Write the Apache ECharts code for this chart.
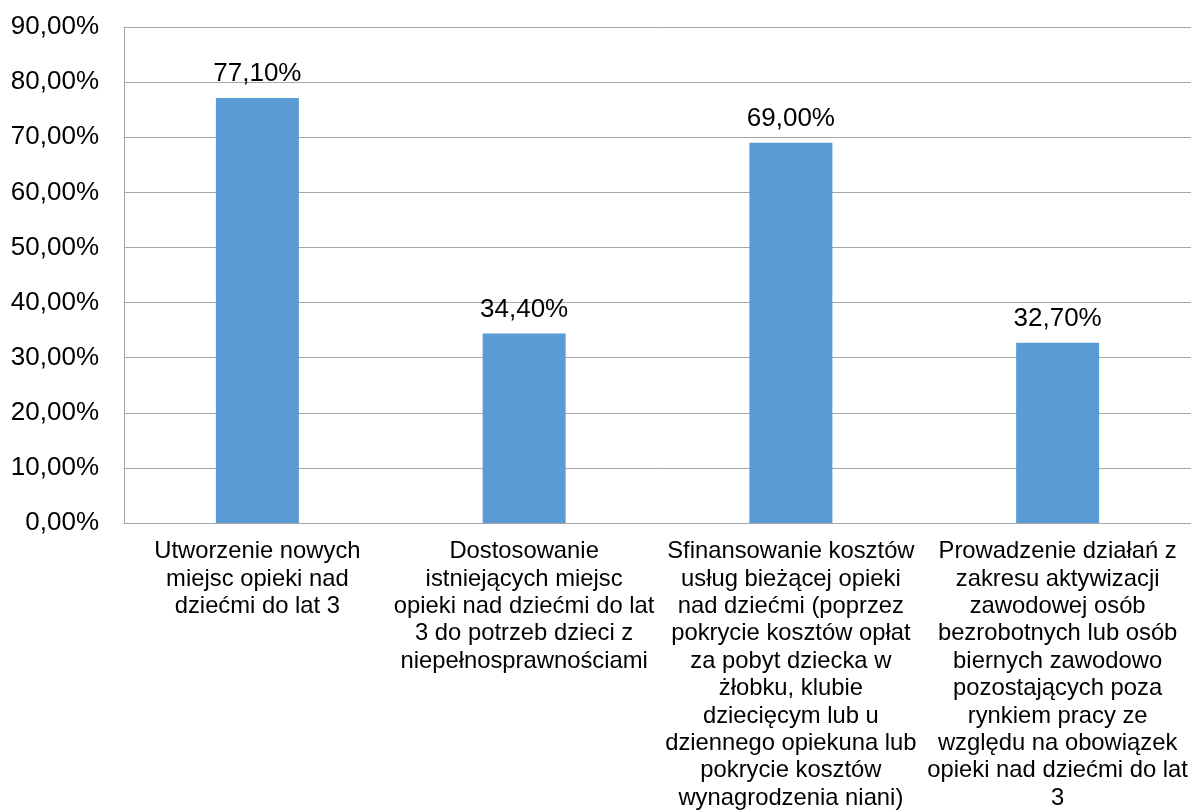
<!DOCTYPE html>
<html><head><meta charset="utf-8">
<script src="https://cdn.jsdelivr.net/npm/echarts@6/dist/echarts.min.js"></script>
<style>html,body{margin:0;padding:0;background:#fff}#c{width:1191px;height:811px}</style>
</head><body><div id="c"></div>
<script>
var categories = [
  "Utworzenie nowych\nmiejsc opieki nad\ndziećmi do lat 3",
  "Dostosowanie\nistniejących miejsc\nopieki nad dziećmi do lat\n3 do potrzeb dzieci z\nniepełnosprawnościami",
  "Sfinansowanie kosztów\nusług bieżącej opieki\nnad dziećmi (poprzez\npokrycie kosztów opłat\nza pobyt dziecka w\nżłobku, klubie\ndziecięcym lub u\ndziennego opiekuna lub\npokrycie kosztów\nwynagrodzenia niani)",
  "Prowadzenie działań z\nzakresu aktywizacji\nzawodowej osób\nbezrobotnych lub osób\nbiernych zawodowo\npozostających poza\nrynkiem pracy ze\nwzględu na obowiązek\nopieki nad dziećmi do lat\n3"
];
var values = [77.1, 34.4, 69.0, 32.7];
function fmt(v){ return v.toFixed(2).replace('.', ',') + '%'; }
var chart = echarts.init(document.getElementById('c'));
chart.setOption({
  animation: false,
  grid: {left: 124, right: 0, top: 27, bottom: 288, containLabel: false, outerBoundsMode: 'none'},
  xAxis: {
    type: 'category', data: categories,
    axisLine: {lineStyle: {color: '#A6A6A6', width: 1}},
    axisTick: {show: false},
    axisLabel: {interval: 0, color: '#000', fontFamily: 'Liberation Sans, Arial', fontSize: 23.8, lineHeight: 27.4, margin: 15}
  },
  yAxis: {
    type: 'value', min: 0, max: 90, interval: 10,
    axisLine: {show: true, lineStyle: {color: '#A6A6A6', width: 1}},
    axisTick: {show: false},
    splitLine: {lineStyle: {color: '#A6A6A6', width: 1}},
    axisLabel: {color: '#000', fontFamily: 'Liberation Sans, Arial', fontSize: 26, margin: 25, formatter: function(v){ return fmt(v); }}
  },
  series: [{
    type: 'bar', data: values, barWidth: 83,
    itemStyle: {color: '#5B9BD5'},
    label: {show: true, position: 'top', distance: 11, color: '#000', fontFamily: 'Liberation Sans, Arial', fontSize: 26, formatter: function(p){ return fmt(p.value); }}
  }]
});
</script></body></html>
